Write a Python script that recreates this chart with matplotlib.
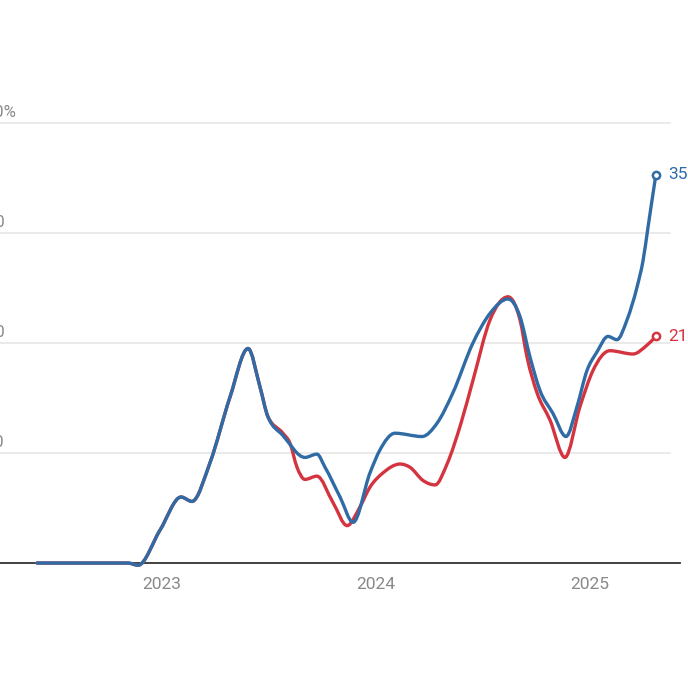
import numpy as np
import matplotlib.pyplot as plt
from matplotlib.path import Path
from matplotlib.patches import PathPatch
import matplotlib.transforms as mtransforms

plt.rcParams['font.family'] = ['Roboto', 'DejaVu Sans']

# time in decimal years, values in %
# both series are identical until mid-2023
t_shared = [2022.416, 2022.841, 2022.888, 2022.991, 2023.089, 2023.140,
            2023.224, 2023.318, 2023.402, 2023.458, 2023.495]
v_shared = [0.0, 0.0, -0.2, 3.0, 6.0, 5.6, 9.1, 15.1, 19.5, 16.0, 13.3]

t_blue = [2023.565, 2023.668, 2023.724, 2023.762, 2023.832, 2023.893,
          2023.972, 2024.019, 2024.089, 2024.215, 2024.285, 2024.360,
          2024.453, 2024.533, 2024.617, 2024.673, 2024.720, 2024.766,
          2024.827, 2024.888, 2024.939, 2024.986, 2025.033, 2025.084,
          2025.126, 2025.173, 2025.220, 2025.248, 2025.271, 2025.290,
          2025.308]
v_blue = [11.6, 9.6, 9.9, 8.7, 6.0, 3.7, 8.2, 10.3, 11.8, 11.5, 12.7, 15.5,
          20.0, 22.7, 24.0, 22.4, 18.7, 15.7, 13.6, 11.5, 14.2, 17.5, 19.2,
          20.6, 20.3, 22.1, 25.1, 27.5, 30.5, 33.0, 35.3]

t_red = [2023.565, 2023.598, 2023.631, 2023.668, 2023.724, 2023.799,
         2023.865, 2023.925, 2023.972, 2024.033, 2024.113, 2024.159,
         2024.220, 2024.276, 2024.332, 2024.397, 2024.453, 2024.533,
         2024.617, 2024.673, 2024.706, 2024.752, 2024.813, 2024.883,
         2024.953, 2025.014, 2025.093, 2025.201, 2025.266, 2025.308]
v_red = [11.8, 10.9, 8.7, 7.6, 7.9, 5.5, 3.4, 5.1, 6.9, 8.2, 9.0, 8.7,
         7.5, 7.1, 9.0, 12.7, 16.6, 22.1, 24.2, 22.1, 18.7, 15.5, 13.0,
         9.6, 14.2, 17.5, 19.3, 19.0, 19.8, 20.6]

years = [2023, 2024, 2025]
y_ticks = [10, 20, 30, 40]
y_labels = ['10', '20', '30', '40%']

BLUE = '#2f6ba5'
RED = '#d4343f'
GREY = '#888888'


def monotone_path(x, y):
    # cubic bezier path like d3.curveMonotoneX
    x = np.asarray(x, float)
    y = np.asarray(y, float)
    h = np.diff(x)
    s = np.diff(y) / h
    n = len(x)
    m = np.zeros(n)
    for i in range(1, n - 1):
        p = (s[i-1] * h[i] + s[i] * h[i-1]) / (h[i-1] + h[i])
        m[i] = (np.sign(s[i-1]) + np.sign(s[i])) * min(abs(s[i-1]), abs(s[i]), 0.5 * abs(p))
    m[0] = (3 * s[0] - m[1]) / 2
    m[-1] = (3 * s[-1] - m[-2]) / 2
    verts = [(x[0], y[0])]
    codes = [Path.MOVETO]
    for i in range(n - 1):
        dx = h[i] / 3
        verts += [(x[i] + dx, y[i] + dx * m[i]),
                  (x[i+1] - dx, y[i+1] - dx * m[i+1]),
                  (x[i+1], y[i+1])]
        codes += [Path.CURVE4] * 3
    return Path(verts, codes)


fig = plt.figure(figsize=(6.88, 6.88), dpi=100)
ax = fig.add_axes([0, 0, 1, 1])
x0, x1 = 2022.243, 2025.458
ax.set_xlim(x0, x1)
ax.set_ylim(-11.36, 51.18)
ax.axis('off')

# gridlines + baseline
for v in y_ticks:
    ax.plot([x0, 2025.374], [v, v], color='#e4e4e4', lw=1.1, zorder=0)
ax.plot([x0, 2025.421], [0, 0], color='#333333', lw=1.3, zorder=1)

trans = mtransforms.blended_transform_factory(ax.transAxes, ax.transData)
for v, lab in zip(y_ticks, y_labels):
    ax.text(-0.0203, v + 0.55, lab, transform=trans, ha='left', va='baseline',
            fontsize=12, color=GREY, clip_on=False)

for yr in years:
    ax.text(yr, -2.4, str(yr), ha='center', va='baseline', fontsize=12.5, color=GREY)

red_path = monotone_path(t_shared + t_red, v_shared + v_red)
blue_path = monotone_path(t_shared + t_blue, v_shared + v_blue)
ax.add_patch(PathPatch(red_path, fill=False, edgecolor=RED, lw=2.4,
                       capstyle='round', joinstyle='round', zorder=3))
ax.add_patch(PathPatch(blue_path, fill=False, edgecolor=BLUE, lw=2.4,
                       capstyle='round', joinstyle='round', zorder=4))

# end markers and labels
for t, v, c in [(t_red[-1], v_red[-1], RED), (t_blue[-1], v_blue[-1], BLUE)]:
    ax.plot([t], [v], marker='o', ms=5.2, mfc='white', mec=c, mew=1.8, zorder=5)
    ax.text(t + 0.056, v, f'{v:.0f}', ha='left', va='center', fontsize=12.5,
            color=c, clip_on=False)

fig.savefig('out.png', dpi=100)
